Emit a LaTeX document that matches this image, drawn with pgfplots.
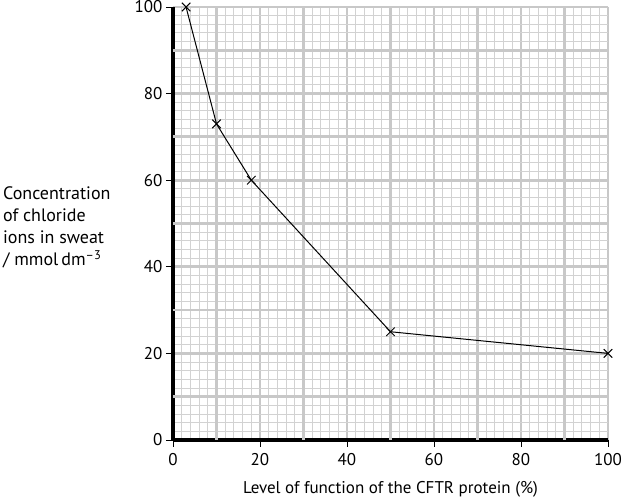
\documentclass[border=0pt]{standalone}
\usepackage{fontspec}
\setmainfont{PT Sans}
\usepackage{pgfplots}
\pgfplotsset{compat=1.18}
\definecolor{gridc}{HTML}{C8C8C8}
\definecolor{gridm}{HTML}{D2D2D2}
\begin{document}
\begin{tikzpicture}
\begin{axis}[
  scale only axis, width=435pt, height=433pt,
  xmin=0, xmax=100, ymin=0, ymax=100,
  axis lines*=left,
  axis line style={-, black, line width=3.5pt},
  xtick={0,20,...,100}, ytick={0,20,...,100},
  minor xtick={0,2,...,100}, minor ytick={0,2,...,100},
  extra x ticks={10,30,50,70,90}, extra y ticks={10,30,50,70,90},
  extra tick style={major tick length=0pt, grid=major},
  extra x tick labels={}, extra y tick labels={},
  grid=both,
  major grid style={gridc, line width=2.8pt},
  minor grid style={gridm, line width=1pt},
  tick align=outside,
  major tick length=7pt, minor tick length=0pt,
  tick style={black, line width=0.9pt},
  /pgf/number format/assume math mode=true,
  ticklabel style={font=\fontsize{17}{20}\selectfont},
  xticklabel style={yshift=-3pt},
  xlabel={Level of function of the CFTR protein (\%)},
  label style={font=\fontsize{17}{20}\selectfont},
  xlabel style={yshift=-2pt},
  clip=false,
]
\addplot[black, line width=1pt, mark=x, mark size=6pt, mark options={line width=1pt}]
  coordinates {(3,100) (10,73) (18,60) (50,25) (100,20)};
\coordinate (bl) at (rel axis cs:0,0);
\node[anchor=west, align=left, inner sep=0pt, font=\fontsize{18}{22}\selectfont]
  at (rel axis cs:-0.391,0.49) {Concentration\\of chloride\\ions in sweat\\/ mmol\,dm\textsuperscript{–3}};
\end{axis}
\pgfresetboundingbox
\path (bl) ++(-173pt,-58pt) rectangle ++(622pt,498pt);
\end{tikzpicture}
\end{document}
